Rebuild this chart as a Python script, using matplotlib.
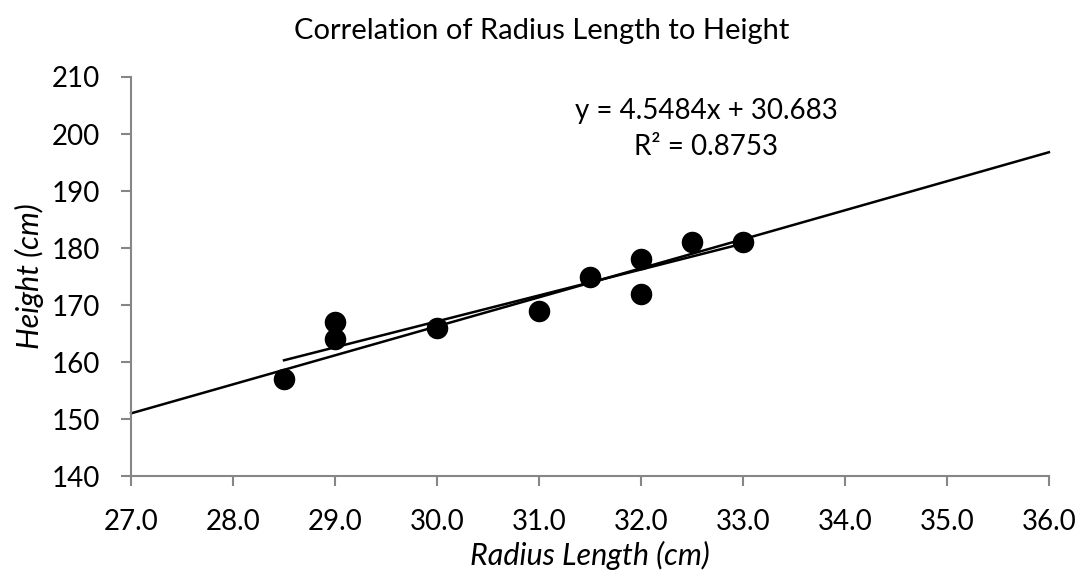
import numpy as np
import matplotlib
matplotlib.use("Agg")
import matplotlib.pyplot as plt

plt.rcParams['font.family'] = ['Lato', 'DejaVu Sans']

# measured data
radius = [28.5, 29.0, 29.0, 30.0, 31.0, 31.5, 32.0, 32.0, 32.5, 33.0]
height = [157, 167, 164, 166, 169, 175, 178, 172, 181, 181]

# trendline as printed in the chart
slope, intercept = 4.5484, 30.683
r2 = 0.8753

# second (longer) line drawn across the whole axis
long_x = [27.0, 36.0]
long_y = [151.0, 196.8]

xticks = [27.0, 28.0, 29.0, 30.0, 31.0, 32.0, 33.0, 34.0, 35.0, 36.0]
yticks = [140, 150, 160, 170, 180, 190, 200, 210]

fig = plt.figure(figsize=(10.83, 5.82), dpi=100)
ax = fig.add_axes([0.121, 0.182, 0.8475, 0.6857])

ax.plot(long_x, long_y, color='black', lw=1.8, clip_on=False, zorder=2)
tx = np.array([min(radius), max(radius)])
ax.plot(tx, slope * tx + intercept, color='black', lw=1.8, zorder=2)
ax.plot(radius, height, 'o', color='black', ms=14.5, zorder=3)

ax.set_xlim(27, 36)
ax.set_ylim(140, 210)
ax.set_xticks(xticks)
ax.set_xticklabels([f"{v:.1f}" for v in xticks])
ax.set_yticks(yticks)

for s in ['top', 'right']:
    ax.spines[s].set_visible(False)
for s in ['left', 'bottom']:
    ax.spines[s].set_color('#868686')
    ax.spines[s].set_linewidth(1.5)
ax.tick_params(direction='out', length=7, width=1.5, color='#868686',
               labelsize=20)
ax.tick_params(axis='y', pad=15)
ax.tick_params(axis='x', pad=17)

ax.set_xlabel('Radius Length (cm)', fontsize=22, style='italic')
ax.set_ylabel('Height (cm)', fontsize=22, style='italic')
ax.xaxis.set_label_coords(0.5, -0.2)
ax.yaxis.set_label_coords(-0.111, 0.5)
ax.xaxis.label.set_va('center')
ax.yaxis.label.set_va('center')
fig.text(0.5, 1 - 31 / 582, 'Correlation of Radius Length to Height',
         fontsize=21, ha='center', va='center')

ax.text(32.64, 200.9, f"y = {slope}x + {intercept}\nR² = {r2}", ha='center',
        va='center', fontsize=20, linespacing=1.45)

fig.savefig('out.png', dpi=100)
